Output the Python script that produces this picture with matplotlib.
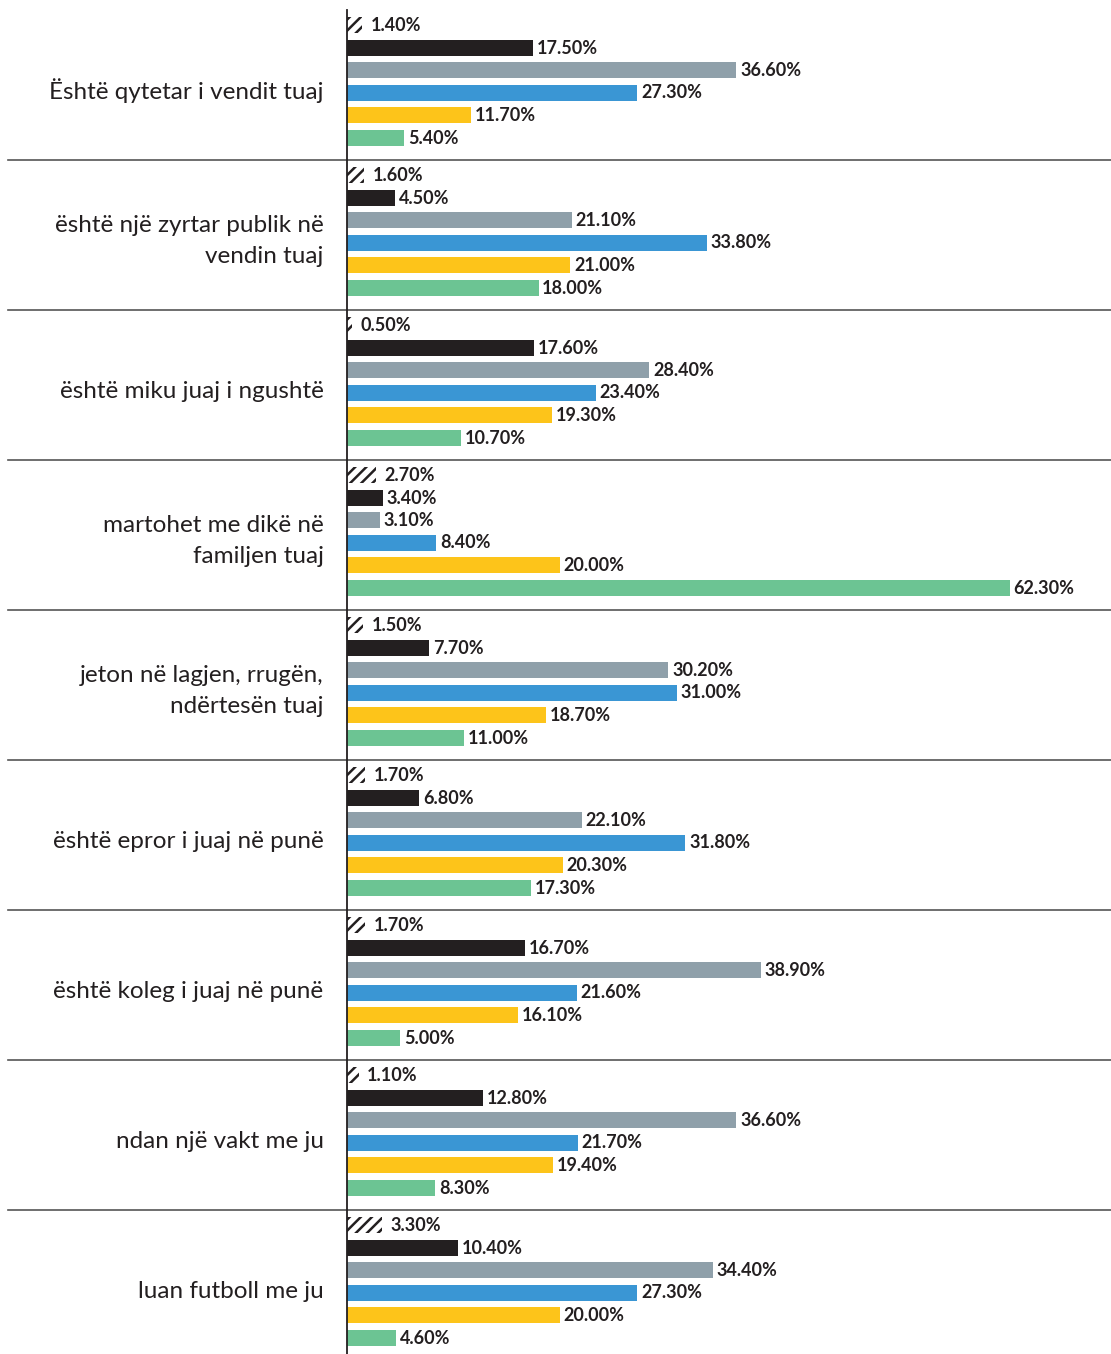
import matplotlib.pyplot as plt
import matplotlib as mpl

mpl.rcParams['hatch.linewidth'] = 1.8
mpl.rcParams['font.family'] = ['Lato', 'DejaVu Sans']

categories = [
    "Është qytetar i vendit tuaj",
    "është një zyrtar publik në\nvendin tuaj",
    "është miku juaj i ngushtë",
    "martohet me dikë në\nfamiljen tuaj",
    "jeton në lagjen, rrugën,\nndërtesën tuaj",
    "është epror i juaj në punë",
    "është koleg i juaj në punë",
    "ndan një vakt me ju",
    "luan futboll me ju",
]
s0 = [1.4, 1.6, 0.5, 2.7, 1.5, 1.7, 1.7, 1.1, 3.3]
s1 = [17.5, 4.5, 17.6, 3.4, 7.7, 6.8, 16.7, 12.8, 10.4]
s2 = [36.6, 21.1, 28.4, 3.1, 30.2, 22.1, 38.9, 36.6, 34.4]
s3 = [27.3, 33.8, 23.4, 8.4, 31.0, 31.8, 21.6, 21.7, 27.3]
s4 = [11.7, 21.0, 19.3, 20.0, 18.7, 20.3, 16.1, 19.4, 20.0]
s5 = [5.4, 18.0, 10.7, 62.3, 11.0, 17.3, 5.0, 8.3, 4.6]
series = [s0, s1, s2, s3, s4, s5]
colors = ['white', '#231f20', '#8fa0aa', '#3a96d4', '#fdc41a', '#6cc493']

W, H = 1111, 1354
fig = plt.figure(figsize=(W / 100, H / 100), dpi=100)
# axes: x from 347 px to right edge, y groups of 150 px starting at 10 px
ax = fig.add_axes([347 / W, (H - 1360) / H, (W - 347) / W, 1350 / H])
ax.set_xlim(0, (W - 347) / 10.64)
ax.set_ylim(1350, 0)
ax.axis('off')

txt = '#231f20'
for g, cat in enumerate(categories):
    top = g * 150
    for k, (vals, c) in enumerate(zip(series, colors)):
        y = top + 15 + k * 22.5
        v = vals[g]
        if k == 0:
            ax.barh(y, v, height=16, color='white', edgecolor='#231f20',
                    hatch='///', linewidth=0)
            dx = 0.8
        else:
            ax.barh(y, v, height=16, color=c, linewidth=0)
            dx = 0.35
        ax.text(v + dx, y + 0.5, f"{v:.2f}%", va='center', ha='left',
                fontsize=13, fontweight='bold', color=txt)
    ax.text(-2.2, top + 81, cat, ha='right', va='center', fontsize=17.5,
            color=txt, linespacing=1.6, clip_on=False)
    if g > 0:
        ax.plot([-(347 - 8) / 10.64, (W - 347) / 10.64], [top, top],
                color='#555555', lw=1.2, clip_on=False)

ax.plot([0, 0], [0, 1350], color='#231f20', lw=1.3, clip_on=False)

fig.savefig('out.png', dpi=100)
